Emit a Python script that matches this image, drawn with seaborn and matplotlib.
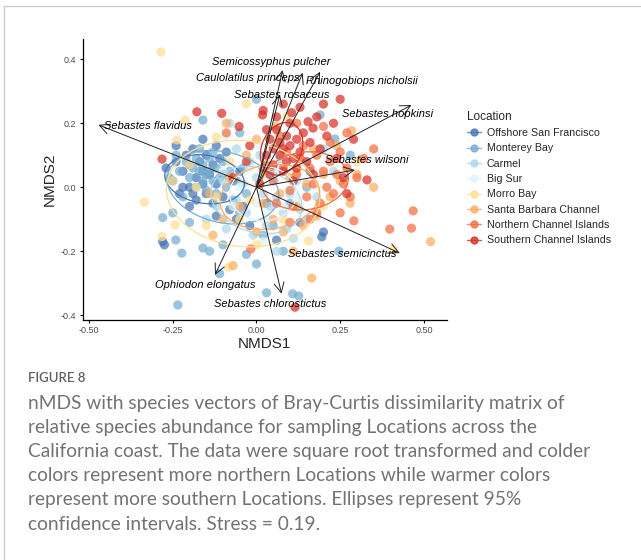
import numpy as np
import pandas as pd
import matplotlib.pyplot as plt
import seaborn as sns
from matplotlib.patches import Ellipse
from matplotlib.lines import Line2D

# ---- data ----
locations = ['Offshore San Francisco', 'Monterey Bay', 'Carmel', 'Big Sur',
             'Morro Bay', 'Santa Barbara Channel', 'Northern Channel Islands',
             'Southern Channel Islands']
colors = ['#4575b4', '#74add1', '#abd9e9', '#e0f3f8',
          '#fee090', '#fdae61', '#f46d43', '#d73027']

sf_x = [-0.27, -0.25, -0.24, -0.23, -0.22, -0.21, -0.20, -0.20, -0.19, -0.18, -0.18, -0.17, -0.16, -0.16, -0.15,
        -0.15, -0.14, -0.13, -0.13, -0.12, -0.11, -0.10, -0.10, -0.09, -0.08, -0.07, -0.06, -0.05, -0.04, -0.02,
        -0.28, -0.275, -0.20, -0.12, 0.06, 0.13, 0.20, 0.195, 0.03, -0.24, -0.16, -0.19, -0.22, -0.12, 0.16]
sf_y = [0.06, 0.02, 0.08, -0.02, 0.05, 0.10, 0.00, 0.07, 0.12, 0.03, -0.04, 0.08, 0.01, 0.05, -0.02,
        0.10, 0.04, 0.07, -0.05, 0.01, 0.09, -0.03, 0.04, 0.11, -0.07, 0.02, -0.10, 0.05, -0.06, -0.12,
        -0.17, -0.18, -0.06, -0.09, -0.165, -0.11, -0.14, -0.155, -0.05, 0.13, 0.15, -0.02, 0.00, 0.13, 0.05]

mb_x = [-0.26, -0.24, -0.23, -0.22, -0.21, -0.20, -0.19, -0.18, -0.18, -0.17, -0.17, -0.16, -0.16, -0.15, -0.15,
        -0.14, -0.14, -0.13, -0.13, -0.12, -0.12, -0.11, -0.10, -0.09, -0.08, -0.07, -0.06, -0.05, -0.04, -0.03,
        -0.235, -0.223, -0.241, -0.28, -0.20, -0.16, -0.14, -0.10, -0.11, -0.03, 0.00, 0.03, 0.108, 0.126,
        0.246, 0.19, 0.234, 0.0, -0.16, 0.05, 0.08, 0.10, 0.15, -0.05, 0.02, -0.25, 0.28]
mb_y = [0.03, 0.10, 0.05, -0.03, 0.08, 0.03, 0.06, 0.00, 0.09, 0.05, 0.12, 0.02, 0.07, 0.04, -0.01,
        0.09, 0.05, 0.02, 0.11, 0.06, -0.02, 0.03, 0.08, 0.00, 0.05, -0.04, 0.02, -0.08, 0.06, -0.02,
        -0.368, -0.206, -0.165, -0.095, -0.11, -0.19, -0.20, -0.18, -0.27, -0.21, -0.24, -0.33, -0.333, -0.34,
        -0.20, 0.226, 0.151, 0.275, 0.21, -0.12, -0.20, -0.05, 0.00, 0.17, -0.15, -0.08, 0.10]

ca_x = [-0.08, -0.06, -0.02, 0.00, 0.02, 0.04, 0.06, 0.08, 0.10, 0.12, 0.03, -0.03, -0.06, -0.10, -0.12,
        0.05, 0.09, 0.13, -0.01, 0.07, 0.15, 0.18, 0.11, -0.04, 0.01, 0.20, 0.23, -0.15, 0.06, -0.09]
ca_y = [0.20, 0.12, 0.08, 0.03, -0.02, -0.06, -0.03, -0.08, -0.02, 0.02, -0.12, -0.08, -0.04, 0.02, -0.06,
        0.05, -0.13, -0.07, -0.15, 0.09, -0.10, -0.03, -0.16, 0.01, 0.10, 0.12, 0.05, -0.10, -0.20, -0.13]

bs_x = [-0.05, 0.00, 0.04, 0.08, -0.02, 0.10, 0.03, -0.07, 0.06, 0.12, -0.10, 0.01, -0.09, 0.14, 0.02]
bs_y = [0.00, -0.05, 0.02, -0.06, 0.06, 0.03, -0.09, -0.06, 0.06, -0.04, 0.05, 0.13, 0.16, 0.08, -0.17]

mo_x = [-0.285, -0.335, -0.282, -0.243, -0.084, 0.155, -0.03, -0.213, -0.238, -0.12, 0.41, -0.18, -0.12, -0.05,
        0.02, 0.06, -0.20, -0.15, 0.08, 0.00, 0.12, -0.08, 0.20, -0.02, -0.25, 0.09, 0.30]
mo_y = [0.423, -0.047, -0.154, -0.118, -0.25, -0.168, 0.26, 0.21, 0.148, 0.157, -0.194, 0.00, -0.03, -0.10,
        0.04, 0.14, 0.07, -0.12, -0.10, -0.18, 0.05, 0.08, -0.06, -0.04, 0.02, 0.22, 0.08]

sb_x = [0.52, 0.165, 0.284, -0.09, -0.07, 0.00, 0.04, 0.07, 0.10, 0.12, 0.15, 0.18, 0.20, 0.22, 0.25, 0.05, 0.02,
        -0.05, -0.10, -0.13, 0.08, 0.13, 0.17, 0.28, 0.30, -0.03, 0.00, 0.11, -0.08, 0.24, 0.06, 0.14, -0.14, 0.35]
sb_y = [-0.17, -0.284, 0.177, 0.20, -0.245, 0.15, 0.05, -0.02, 0.03, -0.06, 0.01, -0.09, 0.04, -0.03, 0.02, -0.10,
        -0.05, -0.06, -0.10, -0.15, -0.14, 0.09, 0.12, -0.05, 0.04, 0.10, -0.14, -0.20, 0.03, 0.13, 0.19, -0.12,
        -0.02, 0.00]

nc_x = [0.468, 0.398, 0.463, 0.291, -0.017, 0.05, 0.08, 0.10, 0.12, 0.13, 0.15, 0.16, 0.17, 0.18, 0.19, 0.20,
        0.21, 0.22, 0.23, 0.24, 0.25, 0.26, 0.27, 0.28, 0.30, 0.14, 0.09, 0.11, 0.06, 0.18, 0.22, 0.32, 0.27, 0.20,
        0.03, 0.07, 0.16, 0.25, -0.09, 0.12, 0.35, 0.10]
nc_y = [-0.074, -0.131, -0.128, -0.105, -0.193, 0.02, 0.06, -0.01, 0.04, 0.09, -0.03, 0.06, 0.01, 0.10, -0.05,
        0.05, 0.00, 0.08, -0.02, 0.04, 0.11, 0.01, 0.06, -0.03, 0.03, 0.13, 0.11, -0.06, -0.05, -0.08, 0.14, 0.09,
        0.17, 0.19, 0.07, 0.16, -0.10, -0.08, 0.17, 0.20, 0.12, -0.11]

sc_x = [0.03, 0.04, 0.05, 0.05, 0.06, 0.07, 0.07, 0.08, 0.08, 0.09, 0.09, 0.10, 0.10, 0.11, 0.12, 0.12, 0.13,
        0.14, 0.06, 0.04, 0.02, 0.15, 0.16, 0.11, 0.03,
        -0.178, -0.104, -0.052, -0.282, 0.25, 0.33, 0.115, 0.18, 0.21, 0.24, 0.20, 0.08, 0.02, -0.02, 0.17, 0.26,
        0.29, 0.13, 0.19, 0.01, -0.03, 0.27, 0.23, -0.07, 0.105, 0.154, 0.169, 0.018]
sc_y = [0.10, 0.15, 0.07, 0.12, 0.18, 0.10, 0.14, 0.05, 0.12, 0.16, 0.08, 0.13, 0.20, 0.09, 0.15, 0.06, 0.11,
        0.17, 0.22, 0.04, 0.06, 0.08, 0.14, 0.02, 0.18,
        0.236, 0.231, 0.19, 0.088, 0.275, 0.023, -0.375, 0.22, 0.16, 0.09, 0.26, 0.26, 0.24, 0.13, 0.04, 0.03,
        0.15, 0.25, 0.12, 0.01, 0.08, -0.02, 0.20, 0.03, 0.233, 0.205, 0.185, 0.226]

# 95% ellipse per location: centre, full width, full height, angle (deg)
ell_cx = [-0.155, -0.10, 0.00, 0.02, -0.04, 0.04, 0.145, 0.075]
ell_cy = [0.025, 0.00, -0.04, -0.02, -0.02, -0.03, 0.02, 0.12]
ell_w = [0.24, 0.34, 0.28, 0.20, 0.46, 0.30, 0.26, 0.17]
ell_h = [0.15, 0.22, 0.20, 0.17, 0.33, 0.20, 0.18, 0.12]
ell_ang = [-10, -15, -20, 0, -8, 10, 8, 70]

# species vectors
species = ['Sebastes flavidus', 'Semicossyphus pulcher', 'Caulolatilus princeps',
           'Rhinogobiops nicholsii', 'Sebastes rosaceus', 'Sebastes hopkinsi',
           'Sebastes wilsoni', 'Sebastes semicinctus', 'Sebastes chlorostictus',
           'Ophiodon elongatus']
sp_x = [-0.472, 0.078, 0.138, 0.19, 0.07, 0.463, 0.294, 0.428, 0.075, -0.124]
sp_y = [0.195, 0.366, 0.358, 0.361, 0.29, 0.257, 0.054, -0.206, -0.333, -0.274]

caption_title = 'FIGURE 8'
caption_lines = [
    'nMDS with species vectors of Bray-Curtis dissimilarity matrix of',
    'relative species abundance for sampling Locations across the',
    'California coast. The data were square root transformed and colder',
    'colors represent more northern Locations while warmer colors',
    'represent more southern Locations. Ellipses represent 95%',
    'confidence intervals. Stress = 0.19.',
]

# label placement relative to arrow tips (data units)
label_off = {
    'Sebastes flavidus': (0.148, -0.004), 'Semicossyphus pulcher': (-0.033, 0.024),
    'Caulolatilus princeps': (-0.165, -0.016), 'Rhinogobiops nicholsii': (0.124, -0.028),
    'Sebastes rosaceus': (0.005, -0.002), 'Sebastes hopkinsi': (-0.073, -0.028),
    'Sebastes wilsoni': (0.034, 0.031), 'Sebastes semicinctus': (-0.173, -0.003),
    'Sebastes chlorostictus': (-0.033, -0.032), 'Ophiodon elongatus': (-0.029, -0.031),
}

xs = [sf_x, mb_x, ca_x, bs_x, mo_x, sb_x, nc_x, sc_x]
ys = [sf_y, mb_y, ca_y, bs_y, mo_y, sb_y, nc_y, sc_y]
df = pd.concat([pd.DataFrame({'NMDS1': x, 'NMDS2': y, 'Location': loc})
                for x, y, loc in zip(xs, ys, locations)], ignore_index=True)

sns.set_style('ticks')
plt.rcParams['font.family'] = ['Liberation Sans', 'DejaVu Sans']

fig = plt.figure(figsize=(6.41, 5.6), dpi=100)
ax = fig.add_axes([82.7/641, 1-320/560, (447-82.7)/641, (320-39.3)/560])

sns.scatterplot(data=df, x='NMDS1', y='NMDS2', hue='Location', hue_order=locations,
                palette=colors, s=44, alpha=0.72, linewidth=0, legend=False, ax=ax)

for i, c in enumerate(colors):
    ax.add_patch(Ellipse((ell_cx[i], ell_cy[i]), ell_w[i], ell_h[i], angle=ell_ang[i],
                         facecolor='none', edgecolor=c, lw=0.9))

for name, x, y in zip(species, sp_x, sp_y):
    ax.annotate('', xy=(x, y), xytext=(0, 0),
                arrowprops=dict(arrowstyle='->,head_length=0.6,head_width=0.3', color='#222222',
                                lw=0.7, mutation_scale=12, shrinkA=0, shrinkB=0))
for name, x, y in zip(species, sp_x, sp_y):
    dx, dy = label_off[name]
    ax.text(x + dx, y + dy, name, ha='center', va='center', style='italic', fontsize=8, color='black')

ax.set_xlim(-0.519, 0.569)
ax.set_ylim(-0.415, 0.4625)
ax.set_xticks([-0.5, -0.25, 0, 0.25, 0.5])
ax.set_xticklabels(['-0.50', '-0.25', '0.00', '0.25', '0.50'])
ax.set_yticks([-0.4, -0.2, 0, 0.2, 0.4])
ax.set_yticklabels(['-0.4', '-0.2', '0.0', '0.2', '0.4'])
ax.tick_params(labelsize=6.5, labelcolor='#4d4d4d', length=2.5, width=0.8, color='black', pad=2)
sns.despine(ax=ax)
for sp in ['left', 'bottom']:
    ax.spines[sp].set_color('black')
    ax.spines[sp].set_linewidth(0.9)
ax.set_xlabel('NMDS1', fontsize=11, labelpad=1)
ax.set_ylabel('NMDS2', fontsize=11, labelpad=3)

handles = [Line2D([0], [0], color=c, marker='o', markersize=5, lw=1, alpha=0.8) for c in colors]
leg = fig.legend(handles, locations, title='Location', loc='upper left',
                 bbox_to_anchor=(457/641, 1-101/560), frameon=False, fontsize=7.7,
                 title_fontsize=8.5, handlelength=1.3, handletextpad=0.6, labelspacing=0.5)
leg._legend_box.align = 'left'

fig.text(28/641, 1-378/560, caption_title, fontsize=9.5, color='#5f5f5f', fontweight='semibold',
         family=['Lato', 'DejaVu Sans'], va='center')
for i, line in enumerate(caption_lines):
    fig.text(28/641, 1-(404+24*i)/560, line, fontsize=13.8, color='#727272',
             family=['Lato', 'DejaVu Sans'], va='center')

fig.add_artist(Line2D([4/641, 4/641], [0, 1-6/560], transform=fig.transFigure, color='#cccccc', lw=1))
fig.add_artist(Line2D([4/641, 1], [1-6/560, 1-6/560], transform=fig.transFigure, color='#cccccc', lw=1))

fig.savefig('out.png', dpi=100)
